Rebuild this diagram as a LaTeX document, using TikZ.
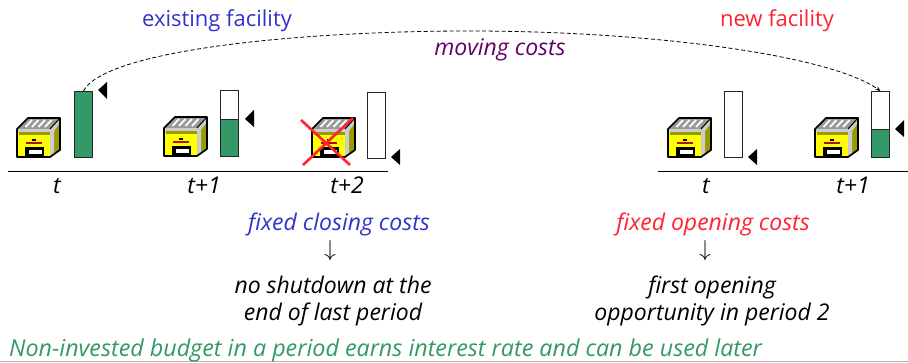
\documentclass[tikz,border=0pt]{standalone}
\usepackage{fontspec}
\setmainfont{Open Sans}
\usetikzlibrary{arrows.meta}
\definecolor{bargreen}{HTML}{339966}
\definecolor{tblue}{HTML}{3333CC}
\definecolor{tred}{HTML}{FF2233}
\definecolor{tpurple}{HTML}{660066}
\definecolor{fyellow}{HTML}{FFFF00}
\definecolor{folive}{HTML}{999900}
\definecolor{fgray}{HTML}{999999}
\definecolor{fred}{HTML}{B01010}
\tikzset{
  barbox/.style={draw=black!85,line width=0.9pt,fill=white,minimum width=18pt,inner sep=0pt,anchor=north west},
  lab/.style={font=\fontsize{23pt}{27pt}\selectfont\itshape,align=center,inner sep=0pt,text=black,anchor=base},
  head/.style={font=\fontsize{22pt}{26pt}\selectfont,inner sep=0pt,anchor=base},
  axisline/.style={draw=black,line width=0.9pt},
  marker/.style={fill=black,draw=none},
  downarrow/.style={inner sep=0pt,scale=2.3},
  facility/.pic={
    \fill[fgray] (11,1)--(43,1)--(33,12)--(0,12)--cycle;
    \foreach \i in {0,1,2,3}{\draw[white,line width=1.8pt] (15+6.5*\i,3)--(8.5+6.5*\i,10);}
    \fill[fyellow] (0,12)rectangle(33,40);
    \fill[folive] (33,12)--(43,1)--(43,33)--(33,40)--cycle;
    \fill[white!80!black] (0,12)rectangle(33,15.5);
    \fill[white!80!black] (33,12)--(43,1)--(43,6)--(37,14)--(37,38)--(33,40)--cycle;
    \fill[folive] (2,15.5)rectangle(33,18);
    \fill[fred] (9,25)rectangle(25,27.5);
    \fill[black] (15,22.5)rectangle(18.5,24);
    \fill[black] (8,30.5)rectangle(27,40);
    \fill[white] (11.5,33.5)rectangle(24.5,37.5);
    \draw[black,line width=1.7pt,line join=round] (0,12)--(11,1)--(43,1)--(43,33)--(33,40)--(0,40)--cycle;
    \draw[black,line width=1pt] (43,1)--(33,12);
  }
}
\begin{document}
\begin{tikzpicture}[x=1pt,y=-1pt]
\useasboundingbox (0,0) rectangle (908,363);
\fill[white] (0,0) rectangle (908,363);

% axes
\coordinate (al) at (8,171); \coordinate (ar) at (388,171);
\coordinate (bl) at (658,171); \coordinate (br) at (908,171);
\draw[axisline] (al)--(ar);
\draw[axisline] (bl)--(br);
% bottom rule
\coordinate (gl) at (0,362); \coordinate (gr) at (908,362);
\draw[black!30,line width=1pt] (gl)--(gr);

% factories
\pic at (17,117) {facility};
\pic at (164,116) {facility};
\pic at (312,117) {facility};
\pic at (668,117) {facility};
\pic at (815,117) {facility};

% bars
\node[barbox,fill=bargreen,minimum height=66pt] (b1) at (74,91) {};
\node[barbox,minimum height=66pt] (b2) at (220,90) {};
\fill[bargreen] (220,119) rectangle (238,156);
\draw[black!85,line width=0.9pt] (220,119)--(238,119) (220,90) rectangle (238,156);
\node[barbox,minimum height=66pt] (b3) at (367,92) {};
\node[barbox,minimum height=66pt] (b4) at (724,91) {};
\node[barbox,minimum height=66pt] (b5) at (871,91) {};
\fill[bargreen] (871,129) rectangle (889,157);
\draw[black!85,line width=0.9pt] (871,129)--(889,129) (871,91) rectangle (889,157);

% level markers
\fill[marker] (98,90)--(107,82)--(107,99)--cycle;
\fill[marker] (245,119)--(254,110)--(254,127)--cycle;
\fill[marker] (391,157)--(400,149)--(400,165)--cycle;
\fill[marker] (748,157)--(757,149)--(757,165)--cycle;
\fill[marker] (895,129)--(904,120)--(904,137)--cycle;

% cross
\draw[tred,line width=2.6pt] (301,120)--(350,165);
\draw[tred,line width=2.6pt] (353,118)--(303,165);

% moving cost connector
\draw[dashed,dash pattern=on 4pt off 2.5pt,line width=0.8pt,-{Stealth[length=5pt,width=4pt]}] (b1.north) .. controls (105,50) and (300,31) .. (470,31) .. controls (650,31) and (830,55) .. (b5.north);

% labels
\node[head,text=tblue] (h1) at (217,27) {existing facility};
\node[head,text=tred] (h2) at (777,27) {new facility};
\node[lab,text=tpurple] (mc) at (500,56) {moving costs};

\node[lab] (t1) at (57,194) {t};
\node[lab] (t2) at (204,194) {t+1};
\node[lab] (t3) at (347,194) {t+2};
\node[lab] (t4) at (706,194) {t};
\node[lab] (t5) at (853,194) {t+1};

\node[lab,text=tblue] (fc) at (339,231) {fixed closing costs};
\node[downarrow] (ar1) at (330,251) {$\downarrow$};
\node[lab] (nc) at (333,321) {no shutdown at the\\end of last period};
\node[lab,text=tred] (fo) at (713,231) {fixed opening costs};
\node[downarrow] (ar2) at (705,251) {$\downarrow$};
\node[lab] (no) at (712,321) {first opening\\opportunity in period 2};
\node[lab,text=bargreen,anchor=base west,font=\fontsize{23.3pt}{27pt}\selectfont\itshape] (bot) at (9,356) {Non-invested budget in a period earns interest rate and can be used later};
\end{tikzpicture}
\end{document}
